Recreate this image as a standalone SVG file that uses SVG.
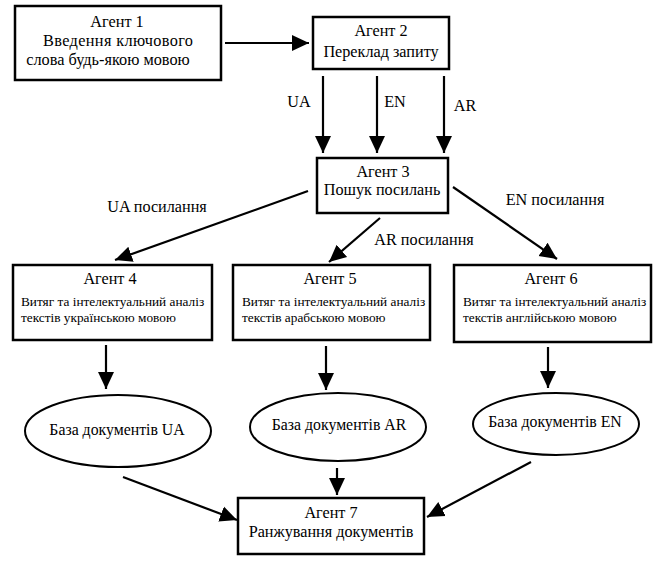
<svg xmlns="http://www.w3.org/2000/svg" width="653" height="563" viewBox="0 0 653 563">
<defs>
<style>
.box{fill:#fff;stroke:#000;stroke-width:2.5}
.ell{fill:#fff;stroke:#000;stroke-width:2}
.ln{stroke:#000;stroke-width:2.2;fill:none}
text{font-family:"Liberation Serif","Times New Roman","DejaVu Serif",serif;fill:#000;text-anchor:middle}
.t{font-size:16.2px}
.b{font-size:16.3px}
.e{font-size:15.8px}
.s{font-size:13.3px;text-anchor:start}
</style>
<marker id="ah" markerUnits="userSpaceOnUse" markerWidth="18" markerHeight="18" viewBox="0 0 18 18" refX="17" refY="9" orient="auto">
<path d="M0,1 L17,9 L0,17 Z" fill="#000"/>
</marker>
</defs>
<g id="connectors">
<line class="ln" x1="225" y1="43" x2="309" y2="43" marker-end="url(#ah)"/>
<line class="ln" x1="323" y1="76" x2="323" y2="153" marker-end="url(#ah)"/>
<line class="ln" x1="377" y1="76" x2="377" y2="153" marker-end="url(#ah)"/>
<line class="ln" x1="444" y1="76" x2="444" y2="153" marker-end="url(#ah)"/>
<line class="ln" x1="308" y1="191" x2="115" y2="260" marker-end="url(#ah)"/>
<line class="ln" x1="380" y1="218" x2="329" y2="262" marker-end="url(#ah)"/>
<line class="ln" x1="453" y1="187" x2="557" y2="259" marker-end="url(#ah)"/>
<line class="ln" x1="106" y1="345" x2="106" y2="389" marker-end="url(#ah)"/>
<line class="ln" x1="326" y1="346" x2="326" y2="390" marker-end="url(#ah)"/>
<line class="ln" x1="548" y1="347" x2="548" y2="388" marker-end="url(#ah)"/>
<line class="ln" x1="123" y1="477" x2="237" y2="520" marker-end="url(#ah)"/>
<line class="ln" x1="337" y1="468" x2="337" y2="495" marker-end="url(#ah)"/>
<line class="ln" x1="531" y1="462" x2="427" y2="517" marker-end="url(#ah)"/>
<text class="t" x="299" y="107">UA</text>
<text class="t" x="395" y="107">EN</text>
<text class="t" x="465" y="111">AR</text>
<text class="t" x="157" y="212">UA посилання</text>
<text class="t" x="424" y="245">AR посилання</text>
<text class="t" x="555" y="205">EN посилання</text>
</g>
<g id="agent1">
<rect class="box" x="15" y="6" width="206" height="74"/>
<text class="b" x="117" y="27">Агент 1</text>
<text class="b" x="118" y="46" textLength="150" lengthAdjust="spacing">Введення ключового</text>
<text class="b" x="108" y="65">слова будь-якою мовою</text>
</g>
<g id="agent2">
<rect class="box" x="313" y="17" width="136" height="52"/>
<text class="t" x="381" y="36">Агент 2</text>
<text class="t" x="381" y="57">Переклад запиту</text>
</g>
<g id="agent3">
<rect class="box" x="317" y="158" width="131" height="55"/>
<text class="t" x="383" y="177">Агент 3</text>
<text class="t" x="382" y="195">Пошук посилань</text>
</g>
<g id="agent4">
<rect class="box" x="13" y="265" width="199" height="75"/>
<text class="t" x="110" y="284">Агент 4</text>
<text class="s" x="21" y="306">Витяг та інтелектуальний аналіз</text>
<text class="s" x="21" y="322">текстів українською мовою</text>
</g>
<g id="agent5">
<rect class="box" x="233" y="265" width="197" height="75"/>
<text class="t" x="330" y="284">Агент 5</text>
<text class="s" x="242" y="306">Витяг та інтелектуальний аналіз</text>
<text class="s" x="242" y="322">текстів арабською мовою</text>
</g>
<g id="agent6">
<rect class="box" x="454" y="265" width="197" height="77"/>
<text class="t" x="551" y="284">Агент 6</text>
<text class="s" x="463" y="306">Витяг та інтелектуальний аналіз</text>
<text class="s" x="463" y="322">текстів англійською мовою</text>
</g>
<g id="db_ua">
<ellipse class="ell" cx="118" cy="431" rx="93" ry="36"/>
<text class="e" x="117" y="435">База документів UA</text>
</g>
<g id="db_ar">
<ellipse class="ell" cx="338" cy="427" rx="88" ry="34"/>
<text class="e" x="339" y="430">База документів AR</text>
</g>
<g id="db_en">
<ellipse class="ell" cx="556" cy="424" rx="83" ry="31"/>
<text class="e" x="555" y="427">База документів EN</text>
</g>
<g id="agent7">
<rect class="box" x="238" y="498" width="186" height="56"/>
<text class="t" x="331" y="518">Агент 7</text>
<text class="t" x="331" y="537">Ранжування документів</text>
</g>
</svg>
